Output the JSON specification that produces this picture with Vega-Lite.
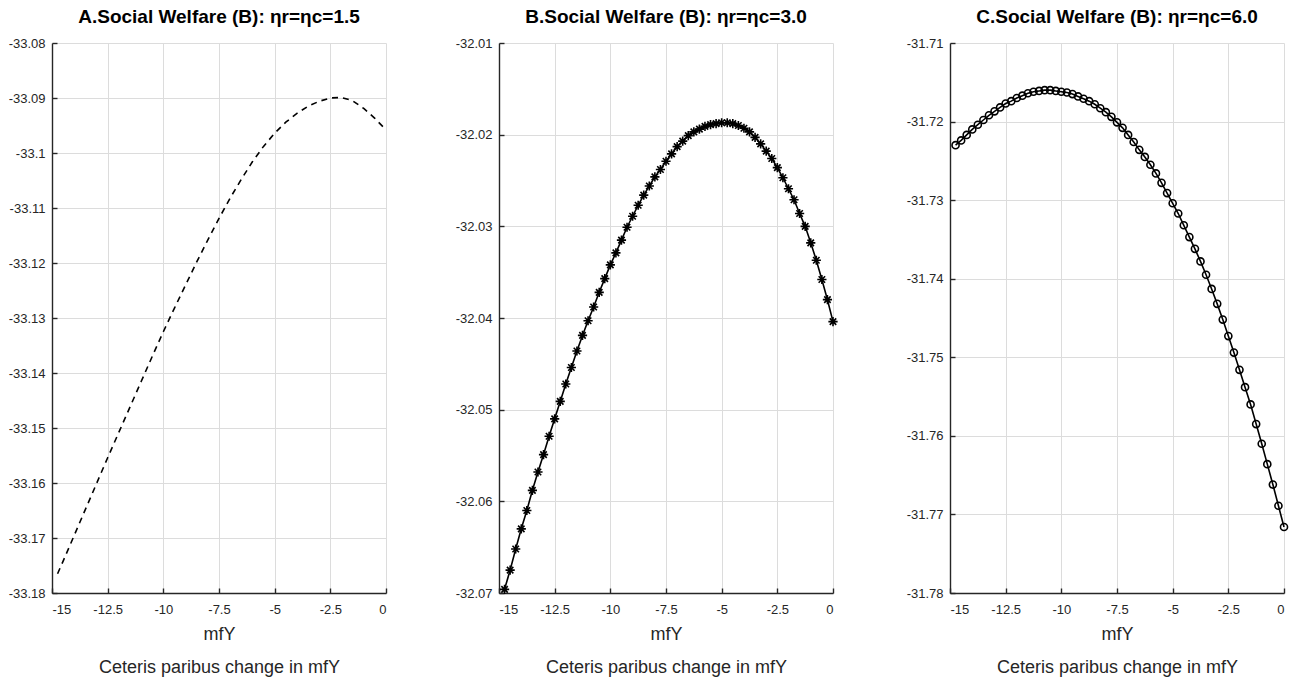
{
  "$schema": "https://vega.github.io/schema/vega-lite/v6.json",
  "description": "Social welfare vs ceteris paribus change in mfY, three eta cases",
  "padding": {"left": 8, "top": 8, "right": 6, "bottom": 2},
  "datasets": {
    "a": [
      {"m": -14.75, "w": -33.1765}, {"m": -14.5, "w": -33.1742}, {"m": -14.0, "w": -33.1695},
      {"m": -13.5, "w": -33.1648}, {"m": -13.0, "w": -33.1601}, {"m": -12.5, "w": -33.1554},
      {"m": -12.0, "w": -33.1508}, {"m": -11.5, "w": -33.1462}, {"m": -11.0, "w": -33.1416},
      {"m": -10.5, "w": -33.1370}, {"m": -10.0, "w": -33.1325}, {"m": -9.5, "w": -33.1282},
      {"m": -9.0, "w": -33.1240}, {"m": -8.5, "w": -33.1198}, {"m": -8.0, "w": -33.1158},
      {"m": -7.5, "w": -33.1119}, {"m": -7.0, "w": -33.1082}, {"m": -6.5, "w": -33.1048},
      {"m": -6.0, "w": -33.1016}, {"m": -5.5, "w": -33.0988}, {"m": -5.0, "w": -33.0964},
      {"m": -4.5, "w": -33.0944}, {"m": -4.0, "w": -33.0928}, {"m": -3.5, "w": -33.0915},
      {"m": -3.0, "w": -33.0906}, {"m": -2.5, "w": -33.0900}, {"m": -2.0, "w": -33.0899},
      {"m": -1.5, "w": -33.0905}, {"m": -1.0, "w": -33.0919}, {"m": -0.5, "w": -33.0937},
      {"m": 0.0, "w": -33.0958}
    ],
    "b": [
      {"m": -14.75, "w": -32.0696}, {"m": -14.5, "w": -32.0675}, {"m": -14.25, "w": -32.0652},
      {"m": -14.0, "w": -32.0630}, {"m": -13.75, "w": -32.0610}, {"m": -13.5, "w": -32.0588},
      {"m": -13.25, "w": -32.0568}, {"m": -13.0, "w": -32.0549}, {"m": -12.75, "w": -32.0529},
      {"m": -12.5, "w": -32.0510}, {"m": -12.25, "w": -32.0491}, {"m": -12.0, "w": -32.0472},
      {"m": -11.75, "w": -32.0454}, {"m": -11.5, "w": -32.0436}, {"m": -11.25, "w": -32.0419},
      {"m": -11.0, "w": -32.0403}, {"m": -10.75, "w": -32.0388}, {"m": -10.5, "w": -32.0372},
      {"m": -10.25, "w": -32.0357}, {"m": -10.0, "w": -32.0342}, {"m": -9.75, "w": -32.0329},
      {"m": -9.5, "w": -32.0315}, {"m": -9.25, "w": -32.0301}, {"m": -9.0, "w": -32.0289},
      {"m": -8.75, "w": -32.0277}, {"m": -8.5, "w": -32.0266}, {"m": -8.25, "w": -32.0256},
      {"m": -8.0, "w": -32.0246}, {"m": -7.75, "w": -32.0238}, {"m": -7.5, "w": -32.0229},
      {"m": -7.25, "w": -32.0221}, {"m": -7.0, "w": -32.0213}, {"m": -6.75, "w": -32.0207},
      {"m": -6.5, "w": -32.0201}, {"m": -6.25, "w": -32.0197}, {"m": -6.0, "w": -32.0194},
      {"m": -5.75, "w": -32.0191}, {"m": -5.5, "w": -32.0189}, {"m": -5.25, "w": -32.0188},
      {"m": -5.0, "w": -32.0187}, {"m": -4.75, "w": -32.0187}, {"m": -4.5, "w": -32.0188},
      {"m": -4.25, "w": -32.0190}, {"m": -4.0, "w": -32.0193}, {"m": -3.75, "w": -32.0197},
      {"m": -3.5, "w": -32.0203}, {"m": -3.25, "w": -32.0210}, {"m": -3.0, "w": -32.0218},
      {"m": -2.75, "w": -32.0226}, {"m": -2.5, "w": -32.0236}, {"m": -2.25, "w": -32.0247},
      {"m": -2.0, "w": -32.0259}, {"m": -1.75, "w": -32.0271}, {"m": -1.5, "w": -32.0286},
      {"m": -1.25, "w": -32.0300}, {"m": -1.0, "w": -32.0318}, {"m": -0.75, "w": -32.0337},
      {"m": -0.5, "w": -32.0358}, {"m": -0.25, "w": -32.0380}, {"m": 0.0, "w": -32.0404}
    ],
    "c": [
      {"m": -14.75, "w": -31.7230}, {"m": -14.5, "w": -31.7224}, {"m": -14.25, "w": -31.7217},
      {"m": -14.0, "w": -31.7210}, {"m": -13.75, "w": -31.7204}, {"m": -13.5, "w": -31.7198},
      {"m": -13.25, "w": -31.7192}, {"m": -13.0, "w": -31.7187}, {"m": -12.75, "w": -31.7182},
      {"m": -12.5, "w": -31.7177}, {"m": -12.25, "w": -31.7174}, {"m": -12.0, "w": -31.7170},
      {"m": -11.75, "w": -31.7167}, {"m": -11.5, "w": -31.7164}, {"m": -11.25, "w": -31.7162},
      {"m": -11.0, "w": -31.7161}, {"m": -10.75, "w": -31.7160}, {"m": -10.5, "w": -31.7160},
      {"m": -10.25, "w": -31.7161}, {"m": -10.0, "w": -31.7162}, {"m": -9.75, "w": -31.7163},
      {"m": -9.5, "w": -31.7165}, {"m": -9.25, "w": -31.7168}, {"m": -9.0, "w": -31.7171},
      {"m": -8.75, "w": -31.7174}, {"m": -8.5, "w": -31.7178}, {"m": -8.25, "w": -31.7183},
      {"m": -8.0, "w": -31.7188}, {"m": -7.75, "w": -31.7194}, {"m": -7.5, "w": -31.7201},
      {"m": -7.25, "w": -31.7208}, {"m": -7.0, "w": -31.7217}, {"m": -6.75, "w": -31.7226},
      {"m": -6.5, "w": -31.7236}, {"m": -6.25, "w": -31.7245}, {"m": -6.0, "w": -31.7255},
      {"m": -5.75, "w": -31.7266}, {"m": -5.5, "w": -31.7278}, {"m": -5.25, "w": -31.7291},
      {"m": -5.0, "w": -31.7304}, {"m": -4.75, "w": -31.7317}, {"m": -4.5, "w": -31.7332},
      {"m": -4.25, "w": -31.7347}, {"m": -4.0, "w": -31.7362}, {"m": -3.75, "w": -31.7378},
      {"m": -3.5, "w": -31.7395}, {"m": -3.25, "w": -31.7413}, {"m": -3.0, "w": -31.7432},
      {"m": -2.75, "w": -31.7452}, {"m": -2.5, "w": -31.7473}, {"m": -2.25, "w": -31.7494},
      {"m": -2.0, "w": -31.7516}, {"m": -1.75, "w": -31.7538}, {"m": -1.5, "w": -31.7560},
      {"m": -1.25, "w": -31.7585}, {"m": -1.0, "w": -31.7610}, {"m": -0.75, "w": -31.7636},
      {"m": -0.5, "w": -31.7662}, {"m": -0.25, "w": -31.7689}, {"m": 0.0, "w": -31.7716}
    ]
  },
  "hconcat": [
    {
      "width": 334,
      "height": 550,
      "title": "A.Social Welfare (B): ηr=ηc=1.5",
      "data": {"name": "a"},
      "encoding": {
        "x": {
          "field": "m", "type": "quantitative",
          "scale": {"domain": [-15, 0], "nice": false, "zero": false},
          "axis": {"values": [-15, -12.5, -10, -7.5, -5, -2.5, 0], "title": ["mfY", "Ceteris paribus change in mfY"]}
        },
        "y": {
          "field": "w", "type": "quantitative",
          "scale": {"domain": [-33.18, -33.08], "nice": false, "zero": false},
          "axis": {"values": [-33.18, -33.17, -33.16, -33.15, -33.14, -33.13, -33.12, -33.11, -33.1, -33.09, -33.08], "title": null}
        }
      },
      "layer": [
        {"mark": {"type": "line", "color": "black", "strokeWidth": 1.6, "strokeDash": [6, 5]}}
      ]
    },
    {
      "width": 334,
      "height": 550,
      "title": "B.Social Welfare (B): ηr=ηc=3.0",
      "data": {"name": "b"},
      "encoding": {
        "x": {
          "field": "m", "type": "quantitative",
          "scale": {"domain": [-15, 0], "nice": false, "zero": false},
          "axis": {"values": [-15, -12.5, -10, -7.5, -5, -2.5, 0], "title": ["mfY", "Ceteris paribus change in mfY"]}
        },
        "y": {
          "field": "w", "type": "quantitative",
          "scale": {"domain": [-32.07, -32.01], "nice": false, "zero": false},
          "axis": {"values": [-32.07, -32.06, -32.05, -32.04, -32.03, -32.02, -32.01], "title": null}
        }
      },
      "layer": [
        {"mark": {"type": "line", "color": "black", "strokeWidth": 1.6}},
        {"mark": {"type": "point", "shape": "M0,-1L0,1M-1,0L1,0M-0.7,-0.7L0.7,0.7M-0.7,0.7L0.7,-0.7", "filled": false, "color": "black", "strokeWidth": 1.6, "size": 85, "opacity": 1}}
      ]
    },
    {
      "width": 334,
      "height": 550,
      "title": "C.Social Welfare (B): ηr=ηc=6.0",
      "data": {"name": "c"},
      "encoding": {
        "x": {
          "field": "m", "type": "quantitative",
          "scale": {"domain": [-15, 0], "nice": false, "zero": false},
          "axis": {"values": [-15, -12.5, -10, -7.5, -5, -2.5, 0], "title": ["mfY", "Ceteris paribus change in mfY"]}
        },
        "y": {
          "field": "w", "type": "quantitative",
          "scale": {"domain": [-31.78, -31.71], "nice": false, "zero": false},
          "axis": {"values": [-31.78, -31.77, -31.76, -31.75, -31.74, -31.73, -31.72, -31.71], "title": null}
        }
      },
      "layer": [
        {"mark": {"type": "line", "color": "black", "strokeWidth": 1.6}},
        {"mark": {"type": "point", "shape": "circle", "filled": false, "color": "black", "strokeWidth": 1.6, "size": 50, "opacity": 1}}
      ]
    }
  ],
  "config": {
    "font": "Liberation Sans",
    "view": {"stroke": null},
    "concat": {"spacing": 65},
    "title": {"fontSize": 19, "fontWeight": "bold", "color": "black", "baseline": "alphabetic", "offset": 10},
    "axis": {
      "domainColor": "#262626",
      "domainWidth": 1.4,
      "tickColor": "#262626",
      "tickWidth": 1.4,
      "tickSize": -5,
      "labelPadding": 12,
      "labelFontSize": 13,
      "labelColor": "#262626",
      "labelExpr": "toString(datum.value)",
      "gridColor": "#dcdcdc",
      "gridWidth": 1,
      "titleFontSize": 18,
      "titleFontWeight": "normal",
      "titleColor": "#262626",
      "titleLineHeight": 33,
      "titlePadding": 9
    },
    "axisX": {"labelPadding": 15}
  }
}
